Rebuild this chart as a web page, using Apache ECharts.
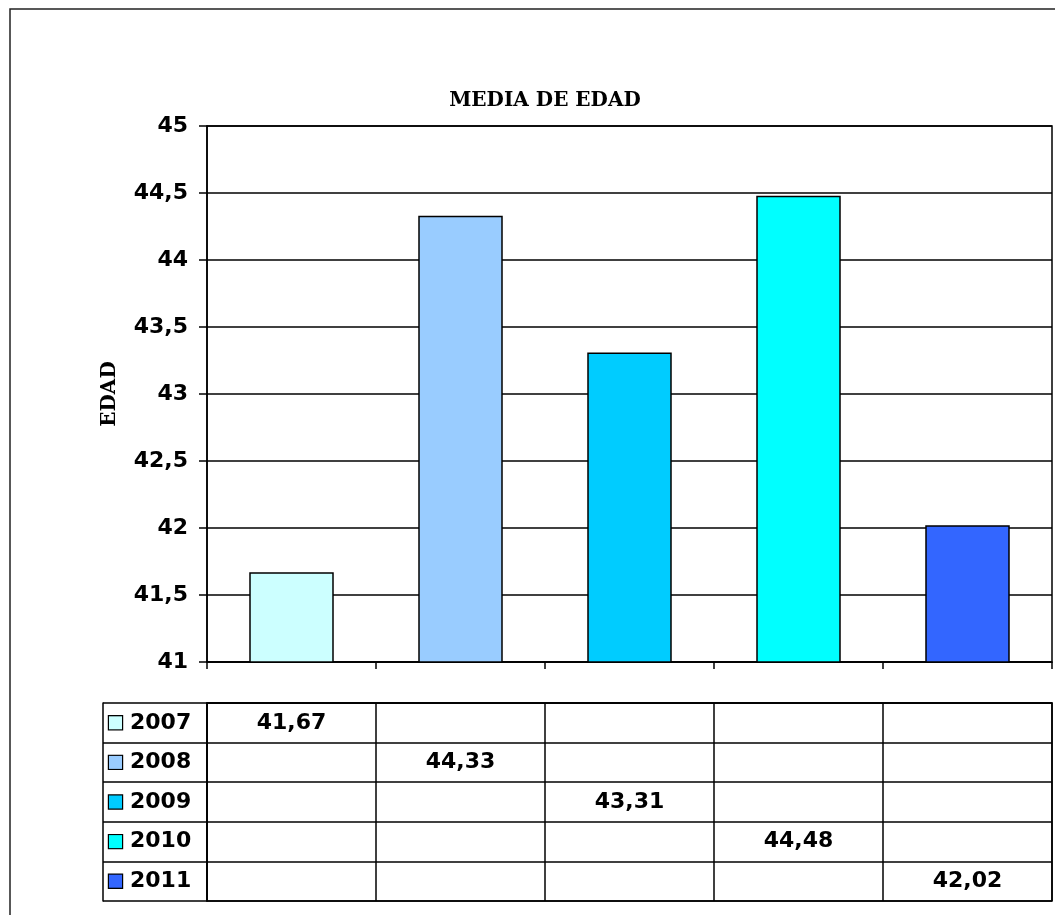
<!DOCTYPE html>
<html>
<head>
<meta charset="utf-8">
<script src="https://cdn.jsdelivr.net/npm/echarts@6/dist/echarts.min.js"></script>
<style>
  html, body { margin: 0; padding: 0; background: #fff; }
  #chart { width: 1055px; height: 915px; }
</style>
</head>
<body>
<div id="chart"></div>
<script>
// data
const years = ['2007', '2008', '2009', '2010', '2011']
const values = [41.67, 44.33, 43.31, 44.48, 42.02]
const colors = ['#CCFFFF', '#99CCFF', '#00CCFF', '#00FFFF', '#3366FF']
const columns = ['', '', '', '', '']

const fmt = (v) => String(v).replace('.', ',')
const fmt2 = (v) => v.toFixed(2).replace('.', ',')

const sansBold = { fontFamily: 'DejaVu Sans', fontWeight: 'bold', fontSize: 22, color: '#000' }
const line = { color: '#000', width: 1.5 }

// legend keys inside the table
const rich = { y: { ...sansBold, padding: [0, 0, 0, 8] } }
years.forEach((y, i) => {
  rich['k' + y] = {
    width: 13,
    height: 13,
    backgroundColor: colors[i],
    borderColor: '#000',
    borderWidth: 1.2
  }
})

const chart = echarts.init(document.getElementById('chart'))

const barSeries = years.map((y, i) => ({
  name: y,
  type: 'bar',
  xAxisIndex: 0,
  yAxisIndex: 0,
  barWidth: '50%',
  barGap: '-100%',
  itemStyle: { color: colors[i], borderColor: '#000', borderWidth: 1.5 },
  data: values.map((v, j) => (j === i ? v : '-'))
}))

const option = {
  animation: false,
  backgroundColor: '#fff',
  title: {
    text: 'MEDIA DE EDAD',
    left: 540,
    top: 86,
    textAlign: 'center',
    textStyle: { fontFamily: 'DejaVu Serif', fontWeight: 'bold', fontSize: 20, color: '#000' }
  },
  graphic: [
    {
      type: 'rect',
      z: -1,
      shape: { x: 10, y: 9, width: 1100, height: 1000 },
      style: { fill: 'none', stroke: '#222', lineWidth: 1.5 }
    }
  ],
  grid: [
    { left: 207, right: 3, top: 126, height: 536, show: true, borderColor: '#000', borderWidth: 1.5 },
    { left: 207, right: 3, top: 703, height: 198, show: true, borderColor: '#000', borderWidth: 1.5 }
  ],
  xAxis: [
    {
      gridIndex: 0,
      type: 'category',
      data: columns,
      boundaryGap: true,
      axisLine: { lineStyle: line },
      axisTick: { show: true, length: 7, lineStyle: line },
      axisLabel: { show: false }
    },
    {
      gridIndex: 1,
      type: 'category',
      position: 'top',
      data: columns,
      boundaryGap: true,
      axisLine: { lineStyle: line },
      axisTick: { show: false },
      axisLabel: { show: false },
      splitLine: { show: true, lineStyle: line }
    }
  ],
  yAxis: [
    {
      gridIndex: 0,
      type: 'value',
      min: 41,
      max: 45,
      interval: 0.5,
      name: 'EDAD',
      nameLocation: 'middle',
      nameRotate: 90,
      nameGap: 87,
      nameTextStyle: { fontFamily: 'DejaVu Serif', fontWeight: 'bold', fontSize: 20, color: '#000' },
      axisLine: { show: true, lineStyle: line },
      axisTick: { show: true, length: 8, lineStyle: line },
      splitLine: { show: true, lineStyle: line },
      axisLabel: { ...sansBold, margin: 19, formatter: fmt }
    },
    {
      gridIndex: 1,
      type: 'category',
      data: years,
      inverse: true,
      axisLine: { show: true, lineStyle: line },
      axisTick: { show: true, length: 104, lineStyle: line },
      splitLine: { show: true, lineStyle: line },
      axisLabel: {
        align: 'left',
        margin: 98,
        rich: rich,
        formatter: (y) => '{k' + y + '|}{y|' + y + '}'
      }
    },
    {
      gridIndex: 1,
      type: 'category',
      data: years,
      inverse: true,
      position: 'left',
      offset: 104,
      axisLine: { show: true, lineStyle: line },
      axisTick: { show: false },
      axisLabel: { show: false },
      splitLine: { show: false }
    }
  ],
  series: [
    ...barSeries,
    {
      name: 'tabla',
      type: 'scatter',
      xAxisIndex: 1,
      yAxisIndex: 1,
      symbolSize: 1,
      itemStyle: { color: '#fff', opacity: 1 },
      label: {
        show: true,
        position: 'inside',
        ...sansBold,
        textBorderWidth: 0,
        formatter: (p) => fmt2(p.value[2])
      },
      data: values.map((v, i) => [i, i, v])
    }
  ]
}

chart.setOption(option)
</script>
</body>
</html>
